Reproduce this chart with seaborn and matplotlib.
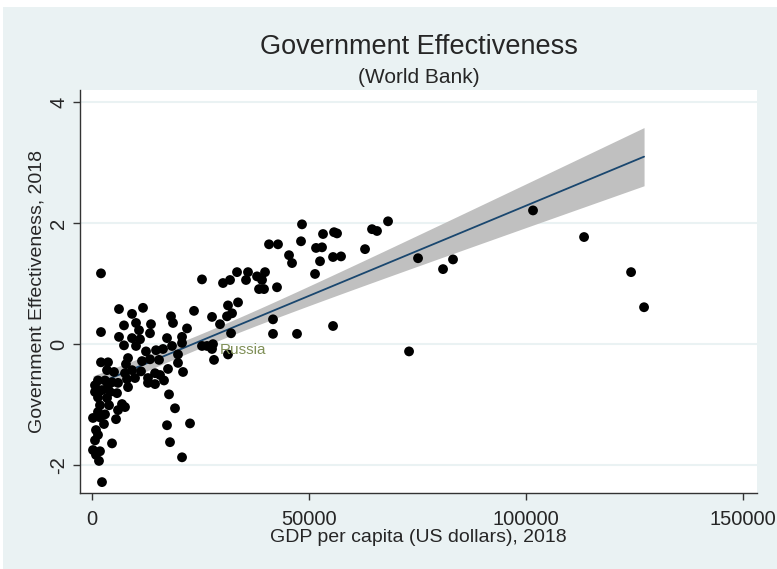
import numpy as np
import pandas as pd
import seaborn as sns
import matplotlib.pyplot as plt
from matplotlib.patches import Rectangle

# GDP per capita (US dollars), 2018
gdp = [101600, 113360, 124190, 127180, 75110, 83170, 80870, 73040, 68200, 64510,
       65660, 62900, 55760, 56450, 55530, 57370, 55530, 48380, 53220, 40780,
       42850, 48150, 51610, 52990, 45390, 46080, 52530, 51380, 33410, 35940,
       39860, 38020, 39170, 30180, 31800, 35480, 38480, 39630, 42620, 25340,
       33640, 31330, 31100, 32260, 27650, 29490, 41700, 41700, 47230, 32030,
       25340, 26500, 27880, 27650, 28110, 31330, 2070, 6220, 11750, 9220,
       7370, 10140, 10830, 13590, 13360, 18200, 18660, 23500, 21890, 2070,
       6220, 9220, 11060, 7370, 10140, 17280, 20740, 20740, 14750, 16360,
       12440, 18430, 8300, 11520, 13360, 15440, 19810, 2070, 3690, 3460,
       7830, 9220, 11290, 7600, 17510, 19810, 20970, 1380, 3000, 4610,
       5990, 8060, 9910, 12900, 14520, 15670, 16590, 12900, 14520, 8300,
       690, 2300, 4150, 5760, 1380, 3460, 17740, 1840, 6910, 7600,
       5990, 19120, 1380, 3000, 1840, 5530, 17280, 22580, 920, 1380,
       690, 4610, 17970, 230, 1840, 1610, 20740, 2300, 690, 2760,
       230, 3920, 920, 3690, 5070]

# Government Effectiveness, 2018
ge = [2.21, 1.77, 1.19, 0.61, 1.42, 1.40, 1.24, -0.12, 2.03, 1.90,
      1.87, 1.57, 1.85, 1.83, 1.44, 1.45, 0.30, 1.98, 1.82, 1.65,
      1.65, 1.70, 1.59, 1.60, 1.47, 1.34, 1.37, 1.16, 1.19, 1.19,
      1.19, 1.12, 1.06, 1.01, 1.06, 1.06, 0.91, 0.91, 0.94, 1.07,
      0.69, 0.64, 0.46, 0.51, 0.45, 0.33, 0.41, 0.17, 0.17, 0.18,
      -0.03, -0.03, 0.00, -0.08, -0.26, -0.17, 1.17, 0.58, 0.60, 0.50,
      0.31, 0.35, 0.23, 0.33, 0.18, 0.46, 0.35, 0.55, 0.26, 0.20,
      0.12, 0.10, 0.08, -0.02, -0.03, 0.10, 0.12, 0.02, -0.10, -0.08,
      -0.12, -0.03, -0.23, -0.28, -0.25, -0.26, -0.17, -0.30, -0.30, -0.43,
      -0.33, -0.43, -0.45, -0.48, -0.41, -0.31, -0.46, -0.60, -0.60, -0.63,
      -0.64, -0.58, -0.56, -0.56, -0.48, -0.51, -0.60, -0.64, -0.66, -0.71,
      -0.79, -0.76, -0.79, -0.81, -0.88, -0.89, -0.83, -1.01, -0.99, -1.04,
      -1.09, -1.06, -1.12, -1.16, -1.21, -1.24, -1.34, -1.31, -1.42, -1.50,
      -1.59, -1.64, -1.62, -1.75, -1.77, -1.93, -1.87, -2.28, -0.68, -1.32,
      -1.22, -1.01, -1.83, -0.69, -0.46]

russia = (27650, -0.08)

df = pd.DataFrame({'gdp': gdp, 'ge': ge})

# OLS fit with analytic 95% confidence interval (like Stata's lfitci)
x = df['gdp'].to_numpy(float)
y = df['ge'].to_numpy(float)
n = len(x)
b1, b0 = np.polyfit(x, y, 1)
resid = y - (b0 + b1 * x)
s = np.sqrt((resid ** 2).sum() / (n - 2))
sxx = ((x - x.mean()) ** 2).sum()
xg = np.linspace(x.min(), x.max(), 200)
yg = b0 + b1 * xg
se = s * np.sqrt(1 / n + (xg - x.mean()) ** 2 / sxx)
fit = pd.DataFrame({'gdp': xg, 'ge': yg, 'lo': yg - 1.975 * se, 'hi': yg + 1.975 * se})

sns.set_style('white')
plt.rcParams['font.family'] = ['Liberation Sans', 'DejaVu Sans']

bg = '#eaf2f3'
fig = plt.figure(figsize=(7.77, 5.69), dpi=100)
fig.patch.set_facecolor('white')
fig.patches.append(Rectangle((3 / 777, 0), 774 / 777, 562 / 569,
                             transform=fig.transFigure, facecolor=bg,
                             edgecolor='none', zorder=-10))
ax = fig.add_axes([80 / 777, 1 - 493 / 569, 677 / 777, 403 / 569])
ax.set_facecolor('white')

ax.fill_between(fit['gdp'], fit['lo'], fit['hi'], color='#c0c0c0', lw=0, zorder=1)
sns.lineplot(data=fit, x='gdp', y='ge', ax=ax, color='#1a476f', lw=1.3, zorder=2)

sns.scatterplot(data=df, x='gdp', y='ge', ax=ax, color='black', s=50,
                edgecolor='none', zorder=3)

ax.text(russia[0] + 1800, russia[1] - 0.02, 'Russia', color='#7f8f57',
        fontsize=11, ha='left', va='center', zorder=4)

ax.set_xlim(-2765, 153200)
ax.set_ylim(-2.46, 4.2)
ax.set_xticks([0, 50000, 100000, 150000])
ax.set_yticks([-2, 0, 2, 4])
ax.set_xticklabels(['0', '50000', '100000', '150000'], fontsize=14.5)
ax.set_yticklabels(['-2', '0', '2', '4'], fontsize=14.5, rotation=90, va='center')
ax.grid(axis='y', color=bg, lw=1.5)
ax.set_axisbelow(True)

for side in ['top', 'right']:
    ax.spines[side].set_visible(False)
for side in ['left', 'bottom']:
    ax.spines[side].set_color('#333333')
    ax.spines[side].set_linewidth(1)
ax.tick_params(axis='both', direction='out', length=5, width=1, color='#333333',
               left=True, bottom=True)
ax.tick_params(axis='x', pad=7)

ax.set_xlabel('GDP per capita (US dollars), 2018', fontsize=14, labelpad=0)
ax.set_ylabel('Government Effectiveness, 2018', fontsize=14, labelpad=3)

fig.text(0.539, 0.918, 'Government Effectiveness', fontsize=19.5, ha='center', va='center')
fig.text(0.539, 0.863, '(World Bank)', fontsize=15, ha='center', va='center')

fig.savefig('out.png', dpi=100, facecolor=fig.get_facecolor())
